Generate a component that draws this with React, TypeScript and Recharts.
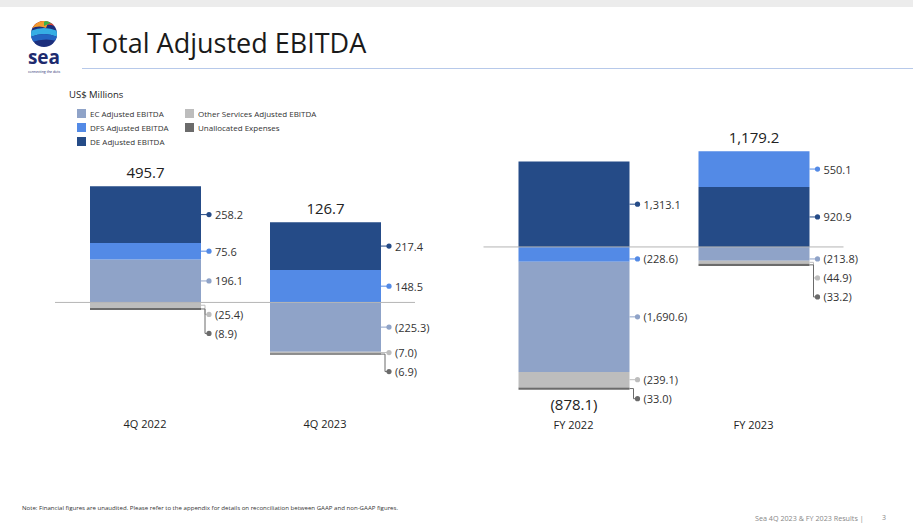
import { Bar, BarChart, LabelList, ReferenceLine, XAxis, YAxis } from "recharts"

const font = "'Open Sans', sans-serif"

// quarterly panel (US$ millions)
const quarterCategories = ["4Q 2022", "4Q 2023"]
const quarterEc = [196.1, -225.3]
const quarterDfs = [75.6, 148.5]
const quarterDe = [258.2, 217.4]
const quarterOther = [-25.4, -7.0]
const quarterUnalloc = [-8.9, -6.9]
const quarterTotal = [495.7, 126.7]

// full year panel (US$ millions)
const yearCategories = ["FY 2022", "FY 2023"]
const yearEc = [-1690.6, -213.8]
const yearDfs = [-228.6, 550.1]
const yearDe = [1313.1, 920.9]
const yearOther = [-239.1, -44.9]
const yearUnalloc = [-33.0, -33.2]
const yearTotal = [-878.1, 1179.2]

const colors: Record<string, string> = {
  ec: "#8fa3c8",
  dfs: "#538ae6",
  de: "#254b87",
  other: "#bdbdbd",
  unalloc: "#6b6b6b",
}

const legendItems = [
  { key: "ec", label: "EC Adjusted EBITDA" },
  { key: "dfs", label: "DFS Adjusted EBITDA" },
  { key: "de", label: "DE Adjusted EBITDA" },
  { key: "other", label: "Other Services Adjusted EBITDA" },
  { key: "unalloc", label: "Unallocated Expenses" },
]

const fmt = (v: number) => {
  const s = Math.abs(v).toLocaleString("en-US", { minimumFractionDigits: 1, maximumFractionDigits: 1 })
  return v < 0 ? `(${s})` : s
}

const buildRows = (cats: string[], ec: number[], dfs: number[], de: number[], other: number[], unalloc: number[]) =>
  cats.map((name, i) => ({ name, ec: ec[i], dfs: dfs[i], de: de[i], other: other[i], unalloc: unalloc[i] }))

const quarterRows = buildRows(quarterCategories, quarterEc, quarterDfs, quarterDe, quarterOther, quarterUnalloc)
const yearRows = buildRows(yearCategories, yearEc, yearDfs, yearDe, yearOther, yearUnalloc)

// rebuild the whole stack of one bar from the rect of a single segment,
// so the callout labels can be spread out without overlapping
function stackLayout(row: any, keys: string[], k: number, top: number, h: number) {
  const v = row[keys[k]]
  const ppu = h / Math.abs(v)
  let posBefore = 0
  let negBefore = 0
  for (let j = 0; j < k; j++) {
    const val = row[keys[j]]
    if (val >= 0) posBefore += val
    else negBefore -= val
  }
  const zeroY = v >= 0 ? top + h + ppu * posBefore : top - ppu * negBefore

  let posAcc = 0
  let negAcc = 0
  let prevPos = zeroY + 7
  let prevNeg = zeroY - 7
  const segs = keys.map((key) => {
    const val = row[key]
    let segTop: number
    let segBot: number
    let labelY: number
    if (val >= 0) {
      segBot = zeroY - ppu * posAcc
      posAcc += val
      segTop = zeroY - ppu * posAcc
      labelY = Math.min((segTop + segBot) / 2, prevPos - 19)
      prevPos = labelY
    } else {
      segTop = zeroY + ppu * negAcc
      negAcc -= val
      segBot = zeroY + ppu * negAcc
      labelY = Math.max((segTop + segBot) / 2, prevNeg + 19)
      prevNeg = labelY
    }
    return { segTop, segBot, labelY }
  })
  return { segs, stackTop: zeroY - ppu * posAcc, stackBottom: zeroY + ppu * negAcc }
}

function makeLabel(rows: any[], keys: string[], k: number, totals: number[]) {
  return (props: any) => {
    const vb = props.viewBox ?? props
    const x = Number(vb.x)
    const w = Number(vb.width)
    const top = Math.min(Number(vb.y), Number(vb.y) + Number(vb.height))
    const h = Math.abs(Number(vb.height))
    const index = props.index
    const row = rows[index]
    if (!row) return null
    const key = keys[k]
    const value = row[key]
    const { segs, stackTop, stackBottom } = stackLayout(row, keys, k, top, h)
    const seg = segs[k]
    const right = x + w
    const dotX = right + 8
    const color = colors[key]
    const y = seg.labelY
    const inside = y >= seg.segTop + 1 && y <= seg.segBot - 1
    const mid = (seg.segTop + seg.segBot) / 2
    const path = inside
      ? `M${right},${y}H${dotX}`
      : `M${right},${mid}H${right + 4}V${y}H${dotX}`
    const total = totals[index]
    return (
      <g>
        <path d={path} stroke={color} strokeWidth={1} fill="none" />
        <circle cx={dotX} cy={y} r={2.6} fill={color} />
        <text x={dotX + 6} y={y} dominantBaseline="central" fontSize={11} fill="#333" fontFamily={font}>
          {fmt(value)}
        </text>
        {k === keys.length - 1 && (
          <text
            x={x + w / 2}
            y={total >= 0 ? stackTop - 14 : stackBottom + 14}
            textAnchor="middle"
            dominantBaseline="central"
            fontSize={15}
            fill="#222"
            fontFamily={font}
          >
            {fmt(total)}
          </text>
        )}
      </g>
    )
  }
}

function Panel(props: {
  rows: any[]
  keys: string[]
  totals: number[]
  domain: [number, number]
  left: number
  top: number
  height: number
  margin: { top: number; right: number; left: number; bottom: number }
}) {
  const { rows, keys, totals, domain, left, top, height, margin } = props
  return (
    <div style={{ position: "absolute", left, top }}>
      <BarChart width={400} height={height} data={rows} margin={margin} stackOffset="sign">
        <XAxis
          dataKey="name"
          axisLine={false}
          tickLine={false}
          tick={{ fontSize: 11, fill: "#222", fontFamily: font }}
        />
        <YAxis hide domain={domain} allowDataOverflow />
        {keys.map((key, k) => (
          <Bar key={key} dataKey={key} stackId="s" fill={colors[key]} barSize={111} isAnimationActive={false}>
            <LabelList dataKey={key} content={makeLabel(rows, keys, k, totals)} />
          </Bar>
        ))}
        <ReferenceLine y={0} stroke="#b5b5b5" strokeWidth={1} />
      </BarChart>
    </div>
  )
}

function Logo() {
  return (
    <svg width={60} height={78} style={{ position: "absolute", left: 14, top: 0 }}>
      <defs>
        <clipPath id="logoClip">
          <circle cx={30} cy={34} r={13} />
        </clipPath>
      </defs>
      <g clipPath="url(#logoClip)">
        <rect x={0} y={0} width={60} height={76} fill="#1c2f7c" />
        <path d="M14,30 Q30,20 46,28 V10 H14 Z" fill="#ea4330" />
        <path d="M14,30 Q24,24 32,28 L36,18 Q30,16 14,22 Z" fill="#f29a2e" />
        <path d="M30,26 Q40,20 46,26 V18 Q38,16 30,22 Z" fill="#39b24a" />
        <path d="M14,32 Q30,24 46,32 V38 Q30,30 14,38 Z" fill="#36aee4" />
        <path d="M14,38 Q30,30 46,38 V42 Q30,36 14,44 Z" fill="#2365c2" />
      </g>
      <text x={30} y={64} textAnchor="middle" fontSize={19} fontWeight={700} fill="#1d2a6e" fontFamily={font}>
        sea
      </text>
      <text x={30} y={73} textAnchor="middle" fontSize={3.5} fill="#1d2a6e" fontFamily={font}>
        connecting the dots
      </text>
    </svg>
  )
}

export default function App() {
  return (
    <div
      style={{
        position: "absolute",
        left: 0,
        top: 0,
        width: 913,
        height: 527,
        background: "#fff",
        overflow: "hidden",
        fontFamily: font,
      }}
    >
      <div style={{ position: "absolute", left: 0, top: 0, width: 913, height: 7, background: "#ececec" }} />
      <Logo />
      <div style={{ position: "absolute", left: 87, top: 24, fontSize: 27, color: "#1a1a1a", whiteSpace: "nowrap" }}>
        Total Adjusted EBITDA
      </div>
      <div style={{ position: "absolute", left: 82, top: 68, width: 831, height: 1, background: "#b7c9ea" }} />

      <div style={{ position: "absolute", left: 69, top: 88, fontSize: 9.5, color: "#222" }}>US$ Millions</div>
      {legendItems.map((item, i) => (
        <div
          key={item.key}
          style={{
            position: "absolute",
            left: i < 3 ? 77 : 185,
            top: 108 + (i % 3) * 14,
            display: "flex",
            alignItems: "center",
            fontSize: 8,
            color: "#333",
            whiteSpace: "nowrap",
          }}
        >
          <span style={{ width: 9, height: 9, background: colors[item.key], marginRight: 4, display: "inline-block" }} />
          {item.label}
        </div>
      ))}

      <Panel
        rows={quarterRows}
        keys={["ec", "dfs", "de", "other", "unalloc"]}
        totals={quarterTotal}
        domain={[-500, 650]}
        left={40}
        top={140}
        height={307}
        margin={{ top: 20, right: 25, left: 15, bottom: 5 }}
      />
      <Panel
        rows={yearRows}
        keys={["de", "dfs", "ec", "other", "unalloc"]}
        totals={yearTotal}
        domain={[-2550, 1550]}
        left={470}
        top={126}
        height={322}
        margin={{ top: 20, right: 26.5, left: 13.5, bottom: 5 }}
      />

      <div style={{ position: "absolute", left: 22, top: 503, fontSize: 6.1, color: "#333", whiteSpace: "nowrap" }}>
        Note: Financial figures are unaudited. Please refer to the appendix for details on reconciliation between GAAP and
        non-GAAP figures.
      </div>
      <div style={{ position: "absolute", left: 755, top: 513, fontSize: 7.2, color: "#888", whiteSpace: "nowrap" }}>
        Sea 4Q 2023 &amp; FY 2023 Results |
      </div>
      <div style={{ position: "absolute", left: 882, top: 513, fontSize: 7, color: "#888" }}>3</div>
    </div>
  )
}
